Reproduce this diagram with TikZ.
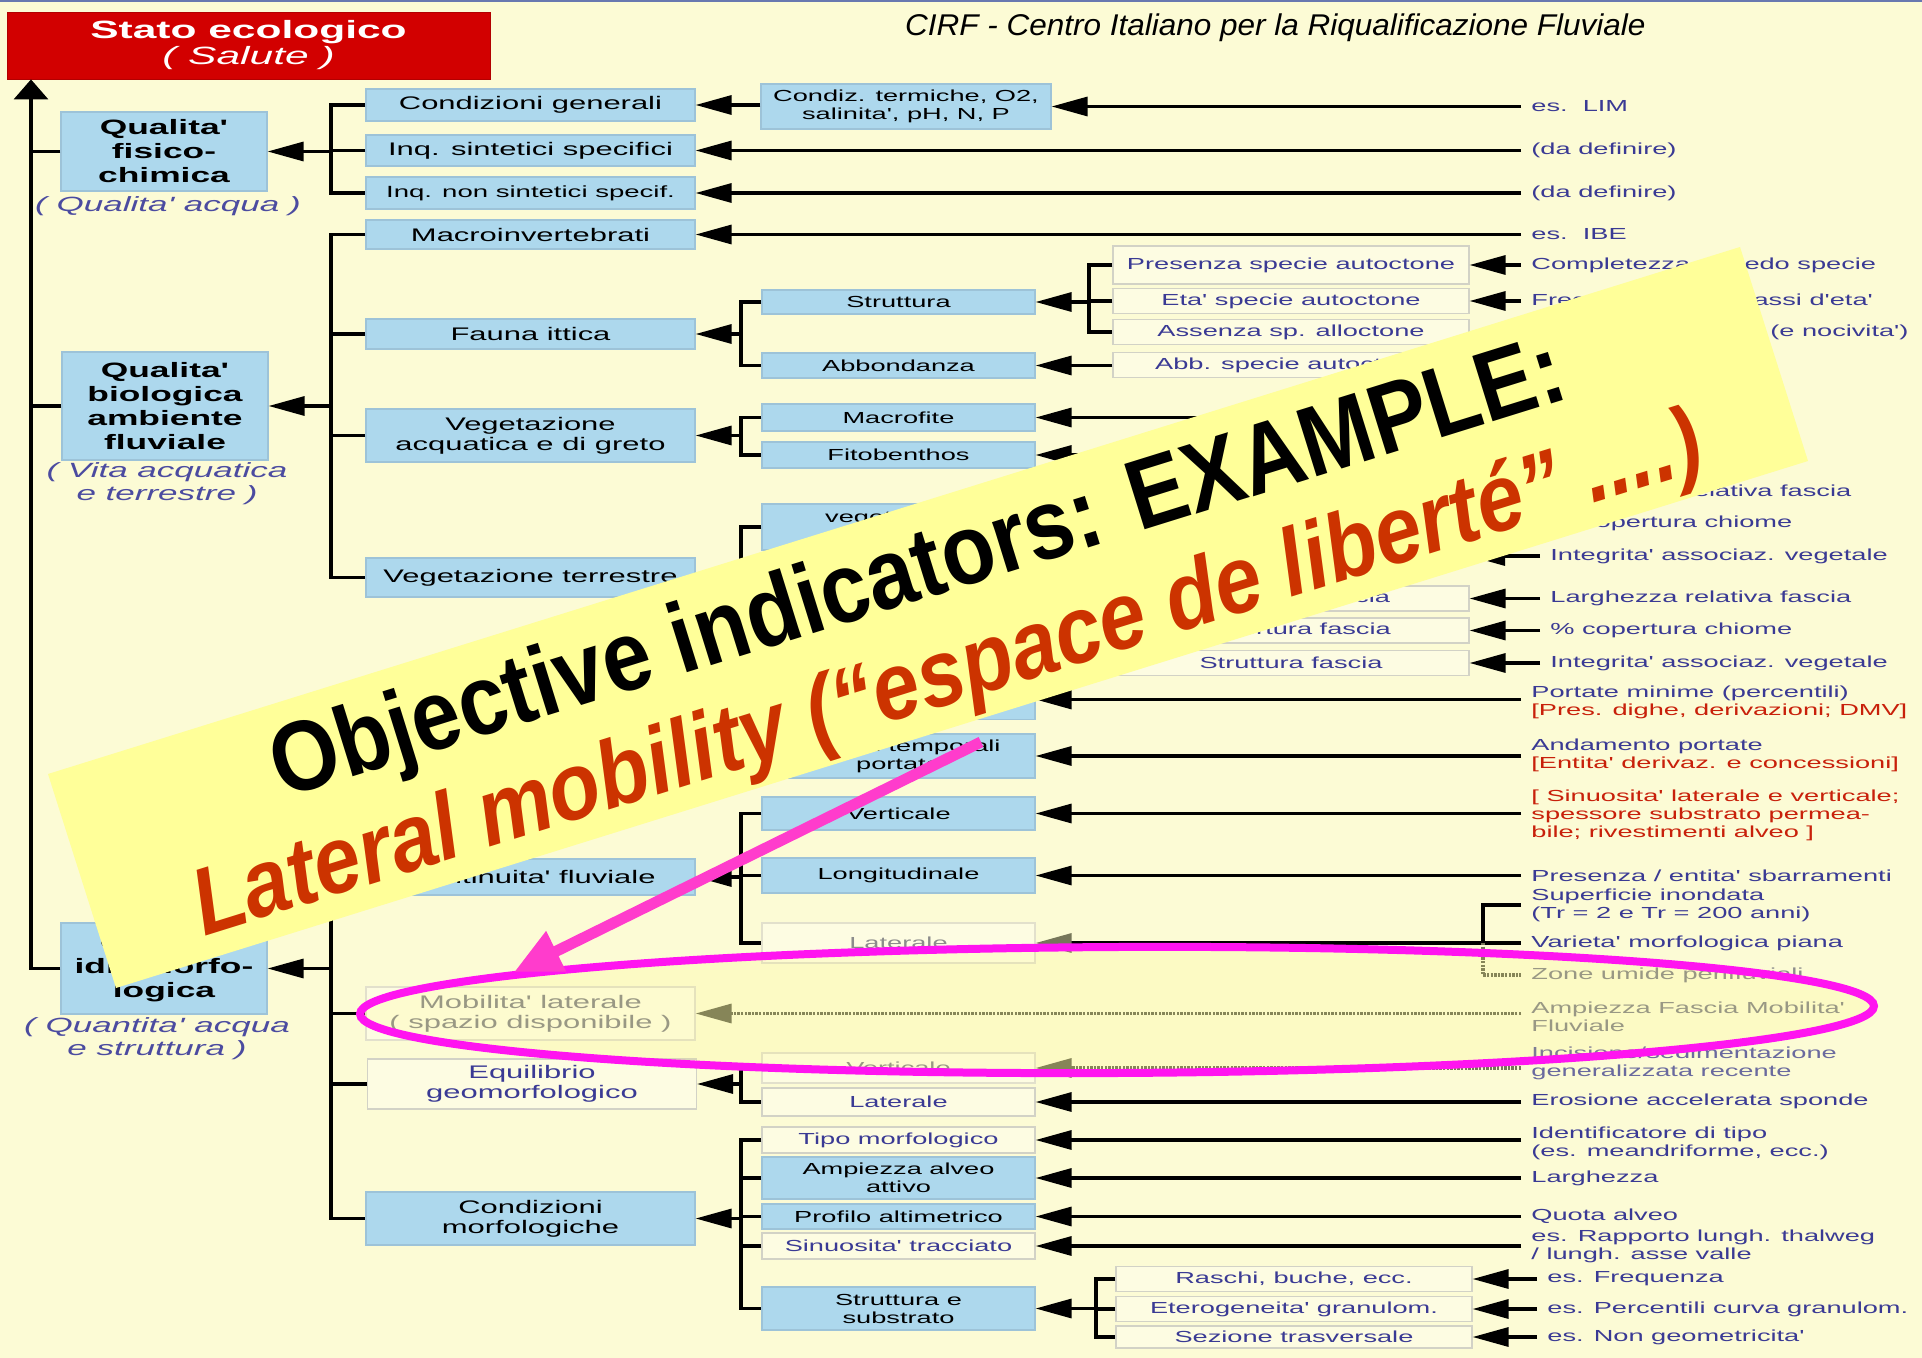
\documentclass[tikz,border=0pt]{standalone}
\usepackage{fontspec}
\setmainfont{Liberation Sans}
\newfontfamily\widesans{Liberation Sans}[FakeStretch=1.7, Ligatures=TeXOff]
\newfontfamily\headfont{Liberation Sans}[FakeStretch=1.05]
\newfontfamily\bannerfont{Liberation Sans}[FakeStretch=0.88]
\usetikzlibrary{arrows.meta}

\definecolor{bgcream}{HTML}{FCFBD5}
\definecolor{topline}{HTML}{6878B0}
\definecolor{boxblue}{HTML}{ADD8ED}
\definecolor{boxedge}{HTML}{9DC3D8}
\definecolor{palefill}{HTML}{FDFCE2}
\definecolor{paleedge}{HTML}{D2D2C6}
\definecolor{fadeedge}{HTML}{E2E0CC}
\definecolor{indblue}{HTML}{3A3A94}
\definecolor{indred}{HTML}{C8200A}
\definecolor{captblue}{HTML}{4B4BA0}
\definecolor{fadetext}{HTML}{8C8C8C}
\definecolor{fadeblue}{HTML}{6A6A9E}
\definecolor{fadeline}{HTML}{76765A}
\definecolor{statored}{HTML}{D20000}
\definecolor{bannerfill}{HTML}{FFFF99}
\definecolor{bannerred}{HTML}{CC3300}
\definecolor{ringcol}{HTML}{FF14F0}
\definecolor{pinkA}{HTML}{FF3CCC}

\begin{document}
\begin{tikzpicture}[x=0.5pt, y=-0.5pt,
  ln/.style={line width=1.6pt, draw=black},
  arr/.style={ln, -{Triangle[length=18pt, width=9.5pt]}},
  fadeln/.style={line width=1.6pt, draw=fadeline, dash pattern=on 1.2pt off 0.6pt},
  fadearr/.style={fadeln, -{Triangle[length=18pt, width=9.5pt, fill=fadeline]}},
  bluebox/.style={fill=boxblue, draw=boxedge, line width=0.6pt, align=center, inner sep=0pt, text=black},
  pale/.style={fill=palefill, draw=paleedge, line width=0.6pt, align=center, inner sep=0pt, text=indblue},
  faded/.style={pale, draw=fadeedge, text=fadetext},
  lvone/.style={minimum width=103pt, font=\widesans\bfseries\fontsize{10.4}{12}\selectfont},
  lvtwo/.style={minimum width=164.5pt, font=\widesans\fontsize{9.1}{10}\selectfont},
  lvthree/.style={minimum width=136.5pt, font=\widesans\fontsize{8}{9}\selectfont},
  lvfour/.style={minimum width=178pt, minimum height=12.5pt, font=\widesans\fontsize{8}{9}\selectfont},
  ind/.style={anchor=west, inner xsep=5pt, inner ysep=0pt, align=left, text=indblue, font=\widesans\fontsize{8}{9}\selectfont},
  capt/.style={align=center, text=captblue, font=\widesans\itshape\fontsize{10.3}{11.5}\selectfont},
]
\useasboundingbox (0,0) rectangle (1922,1358);
\fill[bgcream] (0,0) rectangle (1922,1358);
\draw[topline, line width=1.5pt] (0,1) -- (1922,1);

% titolo
\node[fill=statored, draw=statored!85!black, text=white, align=center, inner sep=0pt,
  minimum width=241.5pt, minimum height=33.5pt, font=\widesans\fontsize{12.5}{13}\selectfont]
  (stato) at (248.5,45.5) {\textbf{Stato ecologico}\\\textit{( Salute )}};
\node[anchor=base west, font=\headfont\itshape\fontsize{15}{17}\selectfont] (cirf) at (898,36)
  {CIRF - Centro Italiano per la Riqualificazione Fluviale};

% colonne dei rami
\coordinate (jT) at (31,0);
\coordinate (jL) at (331,0);
\coordinate (jM) at (741,0);
\coordinate (jR) at (1089,0);
\coordinate (jS) at (1096,0);
\coordinate (jI) at (1483,0);
\coordinate (rA) at (1521,0);
\coordinate (eU) at (1469,0);

% livello 1
\node[bluebox, lvone, minimum height=39.5pt] (fis) at (164,151.5) {Qualita'\\fisico-\\chimica};
\node[capt] (cfis) at (168,206) {( Qualita' acqua )};
\node[bluebox, lvone, minimum height=54pt] (bio) at (165,406) {Qualita'\\biologica\\ambiente\\fluviale};
\node[capt] (cbio) at (167,484) {( Vita acquatica\\e terrestre )};
\node[bluebox, lvone, minimum height=45.5pt] (idro) at (164,968.5) {Qualita'\\idromorfo-\\logica};
\node[capt] (cidro) at (157,1039) {( Quantita' acqua\\e struttura )};

% livello 2
\node[bluebox, lvtwo, minimum height=16pt] (cg) at (530.5,105) {Condizioni generali};
\node[bluebox, lvtwo, minimum height=15.5pt] (iss) at (530.5,150.5) {Inq. sintetici specifici};
\node[bluebox, lvtwo, minimum height=16pt, font=\widesans\fontsize{8.1}{9}\selectfont] (ins) at (530.5,193) {Inq. non sintetici specif.};
\node[bluebox, lvtwo, minimum height=14.5pt] (mac) at (530.5,234.5) {Macroinvertebrati};
\node[bluebox, lvtwo, minimum height=15pt] (fau) at (530.5,334) {Fauna ittica};
\node[bluebox, lvtwo, minimum height=26.5pt] (vag) at (530.5,435.5) {Vegetazione\\acquatica e di greto};
\node[bluebox, lvtwo, minimum height=19.5pt] (vte) at (530.5,577.5) {Vegetazione terrestre};
\node[bluebox, lvtwo, minimum height=18pt] (cf) at (530.5,877) {Continuita' fluviale};
\node[faded, lvtwo, minimum height=26.5pt] (mob) at (530.5,1013.5) {Mobilita' laterale\\( spazio disponibile )};
\node[pale, lvtwo, minimum height=25pt] (equ) at (532,1084) {Equilibrio\\geomorfologico};
\node[bluebox, lvtwo, minimum height=26.5pt] (cmo) at (530.5,1218.5) {Condizioni\\morfologiche};

% livello 3
\node[bluebox, lvthree, minimum width=145pt, minimum height=22.5pt] (ct) at (906,106.5) {Condiz. termiche, O2,\\salinita', pH, N, P};
\node[bluebox, lvthree, minimum height=12pt] (str) at (898.5,302) {Struttura};
\node[bluebox, lvthree, minimum height=12.5pt] (abb) at (898.5,365.5) {Abbondanza};
\node[bluebox, lvthree, minimum height=13.5pt] (mcf) at (898.5,417.5) {Macrofite};
\node[bluebox, lvthree, minimum height=13pt] (fit) at (898.5,455) {Fitobenthos};
\node[bluebox, lvthree, minimum height=23pt] (vg1) at (898.5,527) {vegetazione\\riparia};
\node[bluebox, lvthree, minimum height=20pt] (pmin) at (898.5,699.5) {};
\node[bluebox, lvthree, minimum height=22pt] (ptem) at (898.5,756) {Regimi temporali\\portate};
\node[bluebox, lvthree, minimum height=16.5pt] (ver) at (898.5,813.5) {Verticale};
\node[bluebox, lvthree, minimum height=17.5pt] (lon) at (898.5,875.5) {Longitudinale};
\node[faded, lvthree, minimum height=20pt] (lat) at (898.5,943) {Laterale};
\node[faded, lvthree, minimum height=15pt] (ver2) at (898.5,1068) {Verticale};
\node[pale, lvthree, minimum height=14pt] (lat2) at (898.5,1102) {Laterale};
\node[pale, lvthree, minimum height=13pt] (tipo) at (898.5,1140) {Tipo morfologico};
\node[bluebox, lvthree, minimum height=21pt] (amp) at (898.5,1178) {Ampiezza alveo\\attivo};
\node[bluebox, lvthree, minimum height=12.5pt] (pro) at (898.5,1216.5) {Profilo altimetrico};
\node[pale, lvthree, minimum height=13pt] (sin) at (898.5,1246) {Sinuosita' tracciato};
\node[bluebox, lvthree, minimum height=21.5pt] (sts) at (898.5,1308.5) {Struttura e\\substrato};

% livello 4
\node[pale, lvfour, minimum height=19pt] (pre) at (1291,265) {Presenza specie autoctone};
\node[pale, lvfour] (eta) at (1291,301) {Eta' specie autoctone};
\node[pale, lvfour] (ass) at (1291,332) {Assenza sp. alloctone};
\node[pale, lvfour] (abs) at (1291,365) {Abb. specie autoctone};
\node[pale, lvfour] (am2) at (1291,598.5) {Ampiezza fascia};
\node[pale, lvfour] (co2) at (1291,630.5) {Copertura fascia};
\node[pale, lvfour] (st2) at (1291,663) {Struttura fascia};
\node[pale, lvfour] (ras) at (1294,1279) {Raschi, buche, ecc.};
\node[pale, lvfour] (ete) at (1294,1309) {Eterogeneita' granulom.};
\node[pale, lvfour, minimum height=11pt] (sez) at (1294,1337) {Sezione trasversale};

% indicatori
\node[ind] (lim) at (1521,106.5) {es.\ \ LIM};
\node[ind] (dd1) at (1521,150.5) {(da definire)};
\node[ind] (dd2) at (1521,193) {(da definire)};
\node[ind] (ibe) at (1521,234.5) {es.\ \ IBE};
\node[ind] (com) at (1521,265) {Completezza corredo specie};
\node[ind] (fre) at (1521,301) {Frequenza delle classi d'eta'};
\node[ind] (pal) at (1521,332) {Presenza alloctone (e nocivita')};
\node[ind] (lrf1) at (1540,492) {Larghezza relativa fascia};
\node[ind] (cop1) at (1540,523.5) {\% copertura chiome};
\node[ind] (int1) at (1540,556) {Integrita' associaz. vegetale};
\node[ind] (lrf2) at (1540,598.5) {Larghezza relativa fascia};
\node[ind] (cop2) at (1540,630.5) {\% copertura chiome};
\node[ind] (int2) at (1540,663) {Integrita' associaz. vegetale};
\node[ind] (pmi) at (1521,702) {Portate minime (percentili)\\\textcolor{indred}{[Pres. dighe, derivazioni; DMV]}};
\node[ind] (anp) at (1521,755) {Andamento portate\\\textcolor{indred}{[Entita' derivaz. e concessioni]}};
\node[ind, text=indred] (sil) at (1521,815) {[ Sinuosita' laterale e verticale;\\spessore substrato permea-\\bile; rivestimenti alveo ]};
\node[ind] (sba) at (1521,875.5) {Presenza / entita' sbarramenti};
\node[ind] (sup) at (1521,905) {Superficie inondata\\(Tr = 2 e Tr = 200 anni)};
\node[ind] (var) at (1521,943) {Varieta' morfologica piana};
\node[ind, text=fadetext] (zon) at (1521,975) {Zone umide perifluviali};
\node[ind, text=fadetext] (amf) at (1521,1017) {Ampiezza Fascia Mobilita'\\Fluviale};
\node[ind, text=fadeblue] (inc) at (1521,1063) {Incisione/sedimentazione\\generalizzata recente};
\node[ind] (ero) at (1521,1101) {Erosione accelerata sponde};
\node[ind] (idt) at (1521,1143) {Identificatore di tipo\\(es. meandriforme, ecc.)};
\node[ind] (lgz) at (1521,1178) {Larghezza};
\node[ind] (quo) at (1521,1216.5) {Quota alveo};
\node[ind] (rap) at (1521,1246) {es. Rapporto lungh. thalweg\\/ lungh. asse valle};
\node[ind] (efr) at (1537,1279) {es. Frequenza};
\node[ind] (epc) at (1537,1309) {es. Percentili curva granulom.};
\node[ind] (eng) at (1537,1337) {es. Non geometricita'};

% qualita' fisico-chimica
\draw[arr] (ct.east -| lim.west) -- (ct.east);
\draw[arr] (cg.east -| ct.west) -- (cg.east);
\draw[arr] (iss.east -| dd1.west) -- (iss.east);
\draw[arr] (ins.east -| dd2.west) -- (ins.east);
\draw[ln] (cg.west) -- (cg.west -| jL) -- (ins.west -| jL) -- (ins.west);
\draw[ln] (iss.west) -- (iss.west -| jL);
\draw[arr] (fis.east -| jL) -- (fis.east);

% qualita' biologica
\draw[arr] (mac.east -| ibe.west) -- (mac.east);
\draw[ln] (mac.west) -- (mac.west -| jL) -- (vte.west -| jL) -- (vte.west);
\draw[ln] (fau.west) -- (fau.west -| jL);
\draw[ln] (vag.west) -- (vag.west -| jL);
\draw[arr] (bio.east -| jL) -- (bio.east);
\draw[ln] (str.west) -- (str.west -| jM) -- (abb.west -| jM) -- (abb.west);
\draw[arr] (fau.east -| jM) -- (fau.east);
\draw[ln] (pre.west) -- (pre.west -| jR) -- (ass.west -| jR) -- (ass.west);
\draw[ln] (eta.west) -- (eta.west -| jR);
\draw[arr] (str.east -| jR) -- (str.east);
\draw[arr] (abb.east -| abs.west) -- (abb.east);
\draw[arr] (pre.east -| com.west) -- (pre.east);
\draw[arr] (eta.east -| fre.west) -- (eta.east);
\draw[arr] (ass.east -| pal.west) -- (ass.east);
\draw[ln] (mcf.west) -- (mcf.west -| jM) -- (fit.west -| jM) -- (fit.west);
\draw[arr] (vag.east -| jM) -- (vag.east);
\draw[arr] (mcf.east -| rA) -- (mcf.east);
\draw[arr] (fit.east -| rA) -- (fit.east);
\draw[ln] (vg1.west) -- (vg1.west -| jM) -- (vte.east -| jM);
\draw[arr] (vte.east -| jM) -- (vte.east);
\draw[arr] (lrf1.west) -- (lrf1.west -| eU);
\draw[arr] (cop1.west) -- (cop1.west -| eU);
\draw[arr] (int1.west) -- (int1.west -| eU);
\draw[arr] (am2.east -| lrf2.west) -- (am2.east);
\draw[arr] (co2.east -| cop2.west) -- (co2.east);
\draw[arr] (st2.east -| int2.west) -- (st2.east);

% qualita' idromorfologica
\draw[arr] (pmin.east -| pmi.west) -- (pmin.east);
\draw[arr] (ptem.east -| anp.west) -- (ptem.east);
\draw[arr] (ver.east -| sil.west) -- (ver.east);
\draw[arr] (lon.east -| sba.west) -- (lon.east);
\draw[ln] (ver.west) -- (ver.west -| jM) -- (lat.west -| jM) -- (lat.west);
\draw[ln] (lon.west) -- (lon.west -| jM);
\draw[arr] (cf.east -| jM) -- (cf.east);
\draw[ln] (sup.west) -- (sup.west -| jI) -- (var.west -| jI) -- (var.west);
\draw[ln, -{Triangle[length=18pt, width=9.5pt, fill=fadeline, color=fadeline]}] (lat.east -| jI) -- (lat.east);
\draw[fadeln] (var.west -| jI) -- (zon.west -| jI) -- (zon.west);
\draw[fadearr] (mob.east -| amf.west) -- (mob.east);
\draw[fadearr] (ver2.east -| inc.west) -- (ver2.east);
\draw[arr] (lat2.east -| ero.west) -- (lat2.east);
\draw[ln] (ver2.west) -- (ver2.west -| jM) -- (lat2.west -| jM) -- (lat2.west);
\draw[arr] (equ.east -| jM) -- (equ.east);
\draw[arr] (tipo.east -| idt.west) -- (tipo.east);
\draw[arr] (amp.east -| lgz.west) -- (amp.east);
\draw[arr] (pro.east -| quo.west) -- (pro.east);
\draw[arr] (sin.east -| rap.west) -- (sin.east);
\draw[ln] (tipo.west) -- (tipo.west -| jM) -- (sts.west -| jM) -- (sts.west);
\draw[ln] (amp.west) -- (amp.west -| jM);
\draw[ln] (pro.west) -- (pro.west -| jM);
\draw[ln] (sin.west) -- (sin.west -| jM);
\draw[arr] (cmo.east -| jM) -- (cmo.east);
\draw[ln] (ras.west) -- (ras.west -| jS) -- (sez.west -| jS) -- (sez.west);
\draw[ln] (ete.west) -- (ete.west -| jS);
\draw[arr] (sts.east -| jS) -- (sts.east);
\draw[arr] (ras.east -| efr.west) -- (ras.east);
\draw[arr] (ete.east -| epc.west) -- (ete.east);
\draw[arr] (sez.east -| eng.west) -- (sez.east);
\draw[ln] (cf.west) -- (cf.west -| jL) -- (cmo.west -| jL) -- (cmo.west);
\draw[ln] (mob.west) -- (mob.west -| jL);
\draw[ln] (equ.west) -- (equ.west -| jL);
\draw[arr] (idro.east -| jL) -- (idro.east);

% tronco
\draw[ln] (fis.west) -- (fis.west -| jT);
\draw[ln] (bio.west) -- (bio.west -| jT);
\draw[ln, -{Triangle[length=10pt, width=17pt]}] (idro.west) -- (idro.west -| jT) -- (stato.south -| jT);

% ellisse
\draw[ringcol, line width=4pt, fill=yellow!70, fill opacity=0.12, rotate around={0.3:(1117,1010)}]
  (1117,1010) ellipse [x radius=378.5pt, y radius=31.5pt];

% striscia gialla
\fill[bannerfill] (48,774) -- (1740,247) -- (1808,461) -- (116,988) -- cycle;
\node[rotate=17.3, anchor=base, inner sep=0pt, font=\bannerfont\bfseries\fontsize{49.7}{52}\selectfont]
  (bt1) at (927,598) {Objective indicators: EXAMPLE:};
\node[rotate=17.3, anchor=base, inner sep=0pt, text=bannerred, font=\bannerfont\bfseries\itshape\fontsize{47.5}{50}\selectfont]
  (bt2) at (956,702) {Lateral mobility (“espace de liberté” ....)};

% freccia
\coordinate (pkS) at (981,742);
\coordinate (pkE) at (514,972);
\draw[pinkA, line width=5.5pt, -{Triangle[length=23.5pt, width=21pt]}] (pkS) -- (pkE);
\end{tikzpicture}
\end{document}
